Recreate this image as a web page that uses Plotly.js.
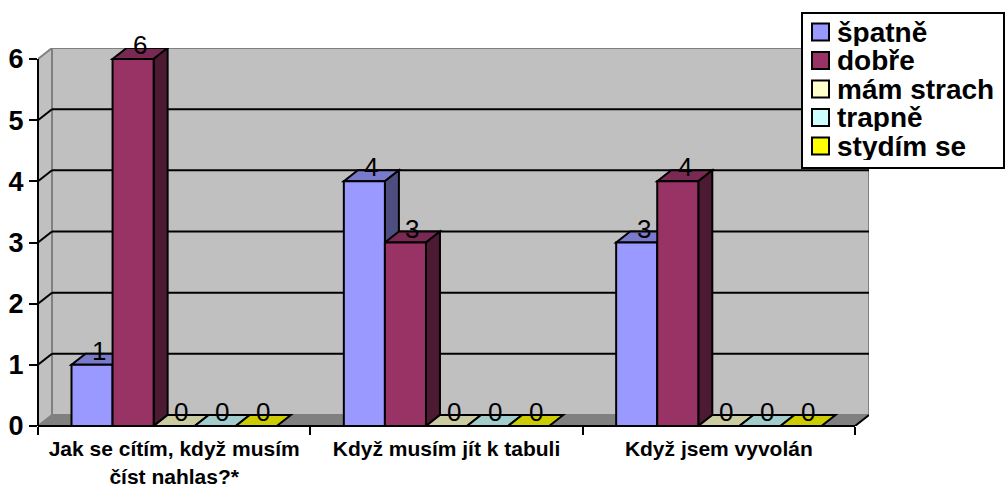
<!DOCTYPE html>
<html>
<head>
<meta charset="utf-8">
<script src="https://cdn.plot.ly/plotly-3.0.1.min.js"></script>
<style>
  html, body { margin: 0; padding: 0; background: #ffffff; }
  #chart { width: 1006px; height: 488px; }
</style>
</head>
<body>
<div id="chart"></div>
<script>
// Categories (questions) and answer counts per series
const categories = ['Jak se cítím, když musím<br>číst nahlas?*', 'Když musím jít k tabuli', 'Když jsem vyvolán'];
const seriesNames = ['špatně', 'dobře', 'mám strach', 'trapně', 'stydím se'];
const spatne = [1, 4, 3];
const dobre = [6, 3, 4];
const mamStrach = [0, 0, 0];
const trapne = [0, 0, 0];
const stydimSe = [0, 0, 0];
const yTicks = [0, 1, 2, 3, 4, 5, 6];

const seriesValues = [spatne, dobre, mamStrach, trapne, stydimSe];
const frontColors = ['#9999FF', '#993366', '#FFFFCC', '#CCFFFF', '#FFFF00'];

// Plot frame (pixels)
const W_TOTAL = 1006, H_TOTAL = 488;
const M = { l: 38, r: 137, t: 48, b: 62 };
const plotW = W_TOTAL - M.l - M.r;
const plotH = H_TOTAL - M.t - M.b;
const PX_PER_CAT = 817 / 3;
const PX_PER_UNIT = 367 / 6;
const DEPTH_PX_X = 14, DEPTH_PX_Y = 11;

const X0 = -0.5;
const X1 = X0 + plotW / PX_PER_CAT;
const Y1 = plotH / PX_PER_UNIT;
const dX = DEPTH_PX_X / PX_PER_CAT;
const dY = DEPTH_PX_Y / PX_PER_UNIT;
const yMax = yTicks[yTicks.length - 1];
const xEnd = X0 + categories.length;

const BW = 0.1508;           // width of a single column (category units)
const nS = seriesNames.length;
const FONT = 'Liberation Sans, Arial, sans-serif';

function shade(hex, f) {
  const n = parseInt(hex.slice(1), 16);
  const r = Math.round(((n >> 16) & 255) * f);
  const g = Math.round(((n >> 8) & 255) * f);
  const b = Math.round((n & 255) * f);
  return 'rgb(' + r + ',' + g + ',' + b + ')';
}
function poly(pts) {
  return 'M' + pts.map(p => p[0] + ',' + p[1]).join(' L') + ' Z';
}
// pixel helpers for paper-anchored items (legend)
const pxX = px => (px - M.l) / plotW;
const pxY = py => (H_TOTAL - M.b - py) / plotH;

const shapes = [];
const annotations = [];

// Walls and floor
shapes.push({ type: 'path', layer: 'below', xref: 'x', yref: 'y',
  path: poly([[X0 + dX, dY], [X1, dY], [X1, yMax + dY], [X0 + dX, yMax + dY]]),
  fillcolor: '#C0C0C0', line: { color: '#808080', width: 2 } });
shapes.push({ type: 'path', layer: 'below', xref: 'x', yref: 'y',
  path: poly([[X0, 0], [X0, yMax], [X0 + dX, yMax + dY], [X0 + dX, dY]]),
  fillcolor: '#C0C0C0', line: { color: '#808080', width: 2 } });
shapes.push({ type: 'path', layer: 'below', xref: 'x', yref: 'y',
  path: poly([[X0, 0], [xEnd, 0], [xEnd + dX, dY], [X0 + dX, dY]]),
  fillcolor: '#808080', line: { color: '#808080', width: 1 } });
shapes.push({ type: 'line', layer: 'below', xref: 'x', yref: 'y',
  x0: xEnd, y0: 0, x1: xEnd + dX, y1: dY, line: { color: '#000000', width: 2 } });

// Gridlines on the side and back walls
yTicks.filter(v => v > 0 && v < yMax).forEach(v => {
  shapes.push({ type: 'line', layer: 'below', xref: 'x', yref: 'y',
    x0: X0, y0: v, x1: X0 + dX, y1: v + dY, line: { color: '#000000', width: 2 } });
  shapes.push({ type: 'line', layer: 'below', xref: 'x', yref: 'y',
    x0: X0 + dX, y0: v + dY, x1: X1, y1: v + dY, line: { color: '#000000', width: 2 } });
});

// Column depth faces (top and right side) and value labels
const traces = [];
seriesValues.forEach((vals, i) => {
  const off = -nS / 2 * BW + i * BW;
  traces.push({
    type: 'bar', name: seriesNames[i], x: [0, 1, 2], y: vals,
    width: BW, offset: off,
    marker: { color: frontColors[i], line: { color: '#000000', width: 2 } },
    hoverinfo: 'skip', showlegend: false
  });
  vals.forEach((v, j) => {
    const xl = j + off, xr = xl + BW;
    shapes.push({ type: 'path', layer: 'below', xref: 'x', yref: 'y',
      path: poly([[xl, v], [xr, v], [xr + dX, v + dY], [xl + dX, v + dY]]),
      fillcolor: shade(frontColors[i], 0.8), line: { color: '#000000', width: 2 } });
    if (v > 0) {
      shapes.push({ type: 'path', layer: 'below', xref: 'x', yref: 'y',
        path: poly([[xr, 0], [xr, v], [xr + dX, v + dY], [xr + dX, dY]]),
        fillcolor: shade(frontColors[i], 0.5), line: { color: '#000000', width: 2 } });
    }
    annotations.push({ xref: 'x', yref: 'y', x: xl + BW / 2 + dX / 2, y: v,
      xanchor: 'center', yanchor: 'bottom', yshift: -3, showarrow: false,
      text: String(v), font: { family: FONT, size: 26, color: '#000000' } });
  });
});

// Front axis lines
shapes.push({ type: 'line', layer: 'above', xref: 'paper', yref: 'paper',
  x0: 0, y0: 0, x1: 0, y1: yMax / Y1, line: { color: '#000000', width: 2 } });
shapes.push({ type: 'line', layer: 'above', xref: 'paper', yref: 'paper',
  x0: 0, y0: 0, x1: (xEnd - X0) / (X1 - X0), y1: 0, line: { color: '#000000', width: 2 } });

// Legend box
const LEG = { x0: 802, y0: 13, x1: 1004, y1: 168, row0: 32, rowStep: 28.5, sw: 17, swX: 812, textX: 836 };
shapes.push({ type: 'rect', layer: 'above', xref: 'paper', yref: 'paper',
  x0: pxX(LEG.x0), x1: pxX(LEG.x1), y0: pxY(LEG.y1), y1: pxY(LEG.y0),
  fillcolor: '#FFFFFF', line: { color: '#000000', width: 2 } });
seriesNames.forEach((name, i) => {
  const cy = LEG.row0 + i * LEG.rowStep;
  shapes.push({ type: 'rect', layer: 'above', xref: 'paper', yref: 'paper',
    x0: pxX(LEG.swX), x1: pxX(LEG.swX + LEG.sw), y0: pxY(cy + LEG.sw / 2), y1: pxY(cy - LEG.sw / 2),
    fillcolor: frontColors[i], line: { color: '#000000', width: 2 } });
  annotations.push({ xref: 'paper', yref: 'paper', x: pxX(LEG.textX), y: pxY(cy),
    xanchor: 'left', yanchor: 'middle', showarrow: false, text: '<b>' + name + '</b>',
    height: 27, borderpad: 0,
    font: { family: FONT, size: 28, color: '#000000' } });
});

const layout = {
  width: W_TOTAL, height: H_TOTAL,
  margin: M,
  paper_bgcolor: '#FFFFFF', plot_bgcolor: 'rgba(0,0,0,0)',
  barmode: 'overlay',
  showlegend: false,
  font: { family: FONT, color: '#000000' },
  xaxis: {
    type: 'linear', range: [X0, X1], showgrid: false, zeroline: false, showline: false,
    tickmode: 'array', tickvals: [0, 1, 2], ticktext: categories,
    ticks: 'outside', ticklen: 4, tickcolor: 'rgba(0,0,0,0)',
    tickfont: { size: 21, family: FONT, weight: 'bold' },
    minor: { tickmode: 'array', tickvals: [-0.5, 0.5, 1.5, 2.5], ticks: 'outside', ticklen: 8, tickwidth: 2, tickcolor: '#000000', showgrid: false },
    fixedrange: true
  },
  yaxis: {
    range: [0, Y1], showgrid: false, zeroline: false, showline: false,
    tickmode: 'array', tickvals: yTicks,
    ticks: 'outside', ticklen: 8, tickwidth: 2, tickcolor: '#000000',
    tickfont: { size: 27, family: FONT, weight: 'bold' },
    fixedrange: true
  },
  shapes: shapes,
  annotations: annotations
};

Plotly.newPlot('chart', traces, layout, { displayModeBar: false, staticPlot: true });
</script>
</body>
</html>
